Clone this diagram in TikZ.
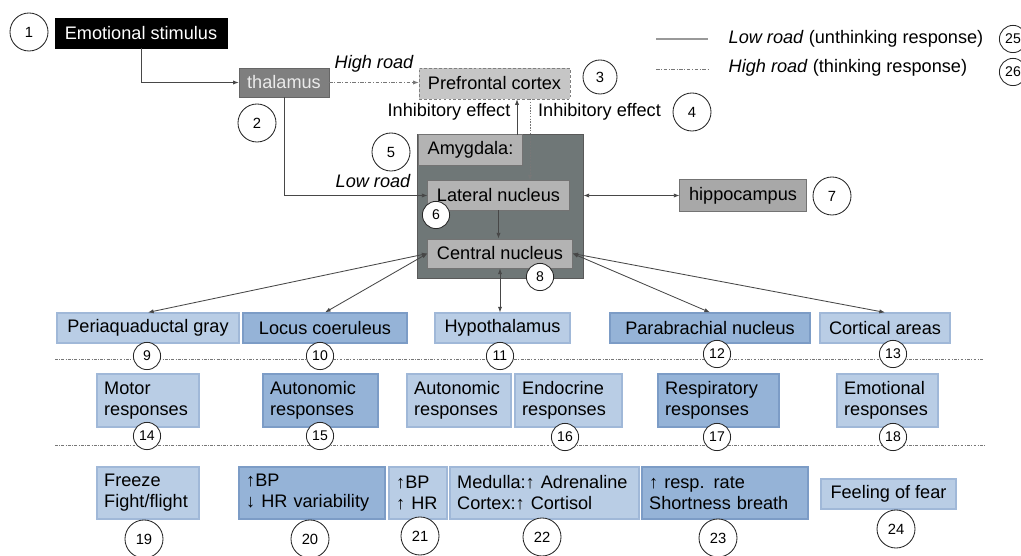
\documentclass[tikz,border=0pt]{standalone}
\usepackage{fontspec}
\setmainfont{Liberation Sans}
\usetikzlibrary{arrows.meta}

\definecolor{paleblue}{HTML}{B9CDE5}
\definecolor{paleedge}{HTML}{A0B8D8}
\definecolor{deepblue}{HTML}{95B3D7}
\definecolor{deepedge}{HTML}{7C9CC6}
\definecolor{amygray}{HTML}{6F7777}
\definecolor{nucgray}{HTML}{B3B3B3}
\definecolor{hipgray}{HTML}{A8A8A8}
\definecolor{thalgray}{HTML}{7F7F7F}
\definecolor{pfcgray}{HTML}{C6C6C6}
\definecolor{linegray}{HTML}{474747}
\definecolor{dotgray}{HTML}{777777}

\newcommand{\boxfont}{\fontsize{12.9}{15}\selectfont}

\tikzset{
  lbox/.style={draw=paleedge, fill=paleblue, line width=0.8pt, inner xsep=0.18cm, inner ysep=0pt, font=\boxfont},
  dbox/.style={lbox, draw=deepedge, fill=deepblue},
  twoline/.style={align=left, text width=#1},
  gbox/.style={draw=black!55, fill=nucgray, line width=0.7pt, inner sep=0pt, font=\boxfont},
  num/.style={circle, draw=black!85, fill=white, line width=0.6pt, minimum size=0.95cm, inner sep=0pt, font=\fontsize{10.5}{12}\selectfont},
  smallnum/.style={num, minimum size=0.68cm, font=\fontsize{10}{11}\selectfont},
  conn/.style={draw=linegray, line width=0.6pt},
  tip/.style={-{Latex[length=4pt,width=3pt]}},
  tips/.style={{Latex[length=4pt,width=3pt]}-{Latex[length=4pt,width=3pt]}},
  highroad/.style={draw=dotgray, dash pattern=on 2.5pt off 1.2pt on 0.6pt off 1.2pt},
  sepline/.style={draw=dotgray, line width=0.7pt, dash pattern=on 2pt off 1pt on 0.6pt off 1pt},
  lbl/.style={font=\boxfont, inner sep=1pt}
}

\begin{document}
\begin{tikzpicture}[x=0.025cm, y=-0.025cm]
\useasboundingbox (0,0) rectangle (1021,556);
\fill[white] (0,0) rectangle (1021,556);

% separators
\coordinate (sepA1) at (55,359);
\coordinate (sepA2) at (983,359);
\coordinate (sepB1) at (55,445);
\coordinate (sepB2) at (985,445);
\draw[sepline] (sepA1) -- (sepA2);
\draw[sepline] (sepB1) -- (sepB2);

% top part
\node[fill=black, draw=black, text=white, font=\boxfont, minimum width=4.3cm, minimum height=0.75cm, inner sep=0pt] (stimulus) at (141,33) {Emotional stimulus};
\node[fill=thalgray, draw=black!60, text=white!92!black, font=\boxfont, minimum width=2.25cm, minimum height=0.725cm, inner sep=0pt] (thalamus) at (284,82.5) {thalamus};
\node[fill=pfcgray, draw=black!50, dashed, dash pattern=on 2pt off 1.5pt, font=\boxfont, minimum width=3.775cm, minimum height=0.775cm, inner sep=0pt] (prefrontal) at (494.5,83.5) {Prefrontal cortex};

% amygdala
\node[fill=amygray, draw=black!65, line width=0.7pt, minimum width=4.125cm, minimum height=3.575cm, inner sep=0pt] (amygdala) at (500.5,206.5) {};
\node[gbox, minimum width=2.575cm, minimum height=0.75cm] (amyglabel) at (470.5,150) {Amygdala:};
\node[gbox, minimum width=3.525cm, minimum height=0.725cm] (lateral) at (498.5,195.5) {Lateral nucleus};
\node[gbox, minimum width=3.6cm, minimum height=0.725cm] (central) at (500,253.5) {Central nucleus};
\node[gbox, fill=hipgray, minimum width=3.15cm, minimum height=0.775cm] (hippocampus) at (743,195.5) {hippocampus};

% first row
\node[lbox, minimum width=4.55cm, minimum height=0.75cm] (pag) at (148,328) {Periaquaductal gray};
\node[dbox, minimum width=4.1cm, minimum height=0.75cm] (coeruleus) at (325,328) {Locus coeruleus};
\node[lbox, minimum width=3.375cm, minimum height=0.75cm] (hypothal) at (502.5,328) {Hypothalamus};
\node[dbox, minimum width=5cm, minimum height=0.75cm] (parabrach) at (710,328) {Parabrachial nucleus};
\node[lbox, minimum width=3.25cm, minimum height=0.75cm] (cortical) at (885,328) {Cortical areas};

% second row
\node[lbox, twoline=2.19cm, minimum height=1.325cm] (motor) at (148,400.5) {Motor\\responses};
\node[dbox, twoline=2.515cm, minimum height=1.325cm] (autoA) at (320.5,400.5) {Autonomic\\responses};
\node[lbox, twoline=2.24cm, minimum height=1.325cm] (autoB) at (459,400.5) {Autonomic\\responses};
\node[lbox, twoline=2.315cm, minimum height=1.325cm] (endocrine) at (568.5,400.5) {Endocrine\\responses};
\node[dbox, twoline=2.665cm, minimum height=1.325cm] (respir) at (718.5,400.5) {Respiratory\\responses};
\node[lbox, twoline=2.165cm, minimum height=1.325cm] (emotional) at (887.5,400.5) {Emotional\\responses};

% third row
\node[lbox, twoline=2.19cm, minimum height=1.3cm] (freeze) at (148,493) {Freeze\\Fight/flight};
\node[dbox, twoline=3.29cm, minimum height=1.3cm] (bpvar) at (312,493) {↑BP\\↓~HR variability};
\node[lbox, twoline=1.09cm, minimum height=1.3cm] (bphr) at (418,493) {↑BP\\↑~HR};
\node[lbox, twoline=4.365cm, minimum height=1.3cm] (medulla) at (544.5,493) {Medulla:↑~Adrenaline\\Cortex:↑~Cortisol};
\node[dbox, twoline=3.79cm, minimum height=1.3cm] (resprate) at (725,493) {↑~resp. rate\\Shortness breath};
\node[lbox, minimum width=3.375cm, minimum height=0.75cm] (fear) at (888.5,494) {Feeling of fear};

% connectors
\draw[conn, tip] (stimulus.south) |- (thalamus.west);
\draw[conn, highroad, tip] (thalamus.east) -- (thalamus.east -| prefrontal.west);
\draw[conn, tip] (thalamus.south) |- (lateral.west);
\coordinate (inhup) at (517,135);
\coordinate (inhdown) at (530,99);
\draw[conn, tip] (inhup) -- (inhup |- prefrontal.south);
\draw[conn, highroad, dash pattern=on 1pt off 1pt, tip] (inhdown) -- (inhdown |- lateral.north);
\draw[conn, tips] (lateral.east -| amygdala.east) -- (hippocampus.west);
\draw[conn, tip] (lateral.south) -- (lateral.south |- central.north);
\draw[conn, tips] (central.west) -- (pag.north);
\draw[conn, tips] (central.west) -- (coeruleus.north);
\draw[conn, tips] (central.south) -- (central.south |- hypothal.north);
\draw[conn, tips] (central.east) -- (parabrach.north);
\draw[conn, tips] (central.east) -- (cortical.north);

% labels
\node[lbl, font=\boxfont\itshape] (highlbl) at (374,64) {High road};
\node[lbl, font=\boxfont\itshape] (lowlbl) at (373,181) {Low road};
\node[lbl] (inhleft) at (449,112) {Inhibitory effect};
\node[lbl] (inhright) at (599.5,112) {Inhibitory effect};

% legend
\coordinate (keyA1) at (656,39);
\coordinate (keyA2) at (708,39);
\coordinate (keyB1) at (656,69);
\coordinate (keyB2) at (708,69);
\draw[draw=black!40, line width=0.8pt] (keyA1) -- (keyA2);
\draw[highroad, line width=0.7pt] (keyB1) -- (keyB2);
\node[lbl, anchor=west] (lowkey) at (727,39) {\textit{Low road} (unthinking response)};
\node[lbl, anchor=west] (highkey) at (727,68) {\textit{High road} (thinking response)};

% numbers
\node[num] (n1) at (29,32) {1};
\node[num] (n2) at (257,123) {2};
\node[num, minimum size=0.85cm] (n3) at (600,77) {3};
\node[num] (n4) at (692,112) {4};
\node[num] (n5) at (391,152) {5};
\node[smallnum] (n6) at (436,215) {6};
\node[num] (n7) at (832,196) {7};
\node[smallnum] (n8) at (540,277) {8};
\node[smallnum] (n9) at (147,356) {9};
\node[smallnum] (n10) at (320,356) {10};
\node[smallnum] (n11) at (500,356) {11};
\node[smallnum] (n12) at (717,354) {12};
\node[smallnum] (n13) at (893,354) {13};
\node[smallnum] (n14) at (147,436) {14};
\node[smallnum] (n15) at (320,436) {15};
\node[smallnum] (n16) at (565,437) {16};
\node[smallnum] (n17) at (717,437) {17};
\node[smallnum] (n18) at (893,437) {18};
\node[num] (n19) at (144,539) {19};
\node[num] (n20) at (310,539) {20};
\node[num] (n21) at (420,536) {21};
\node[num] (n22) at (542,537) {22};
\node[num] (n23) at (718,538) {23};
\node[num] (n24) at (896,529) {24};
\node[smallnum] (n25) at (1013,39) {25};
\node[smallnum] (n26) at (1013,72) {26};
\end{tikzpicture}
\end{document}
